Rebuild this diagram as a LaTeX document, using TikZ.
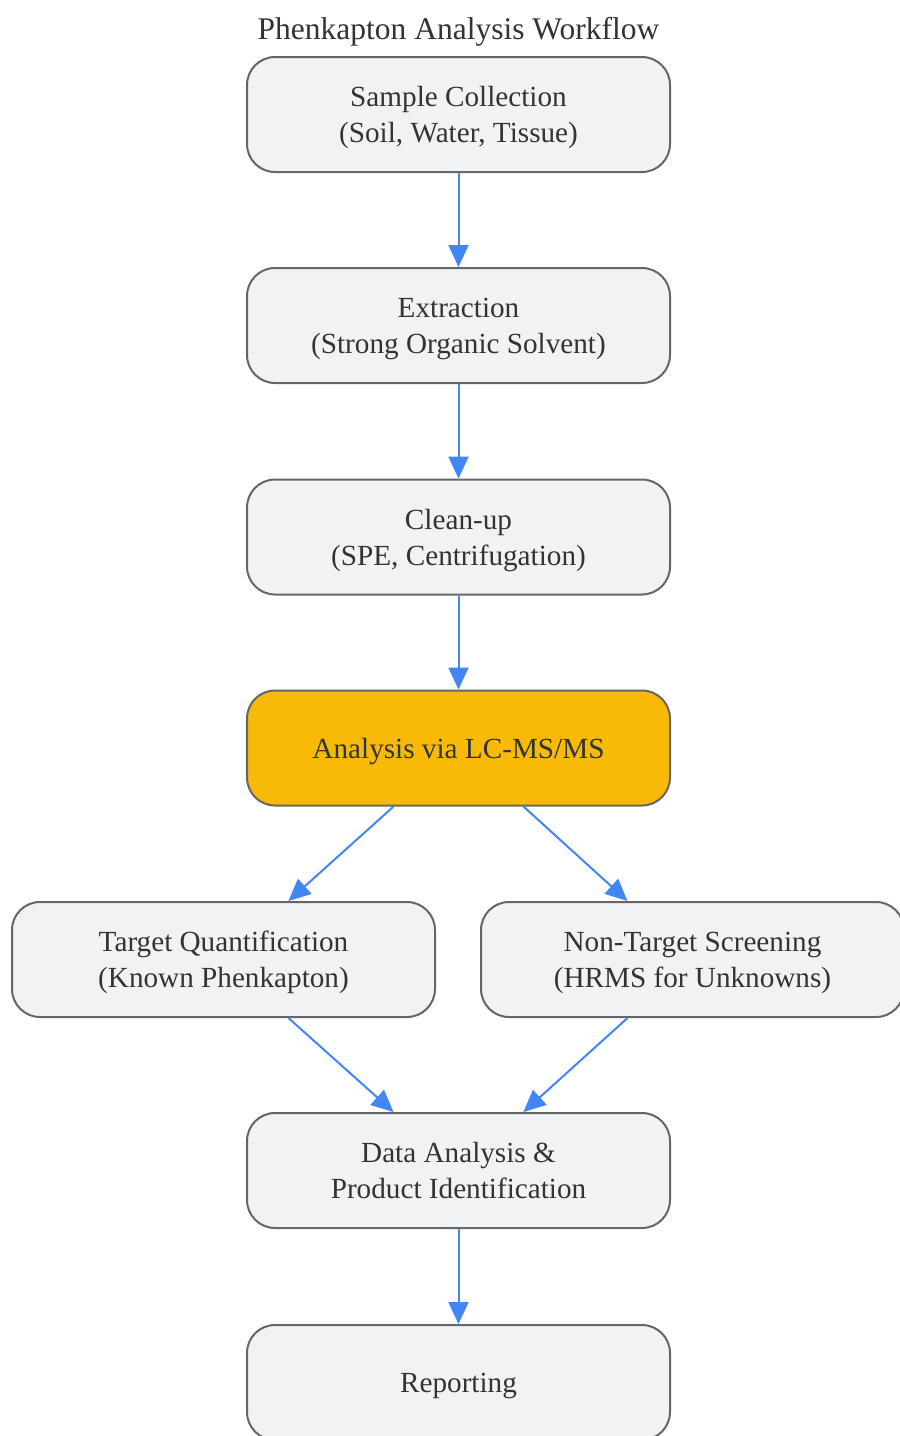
\documentclass[tikz,border=0pt]{standalone}
\usepackage{fontspec}
\setmainfont{Liberation Serif}
\usetikzlibrary{arrows.meta}

\definecolor{boxfill}{HTML}{F1F2F4}
\definecolor{boxline}{HTML}{666666}
\definecolor{hotfill}{HTML}{F9BA07}
\definecolor{flowblue}{HTML}{4285F4}
\definecolor{txt}{HTML}{333333}

\tikzset{stage/.style = {shape=rectangle, rounded corners=28pt, draw=boxline, line width=2pt,
		fill=boxfill, text=txt, align=center, minimum width=423pt, minimum height=115pt,
		inner sep=0pt, text depth=-3pt, font=\fontsize{29.2}{36}\selectfont}}
\tikzset{hot/.style = {stage, fill=hotfill}}
\tikzset{flow/.style = {draw=flowblue, line width=2pt, -{Triangle[length=22pt,width=20pt]}}}

\begin{document}
\begin{tikzpicture}[x=1pt, y=-1pt]
		\useasboundingbox (0,0) rectangle (900,1436);
		% Title
		\node[text=txt, font=\fontsize{31.5}{36}\selectfont] (title) at (458.5, 32) {Phenkapton Analysis Workflow};
		% Nodes
		\node[stage] (collect) at (458.5, 114.5) {Sample Collection\\(Soil, Water, Tissue)};
		\node[stage] (extract) at (458.5, 325.5) {Extraction\\(Strong Organic Solvent)};
		\node[stage] (cleanup) at (458.5, 537.0) {Clean-up\\(SPE, Centrifugation)};
		\node[hot]   (lcms)    at (458.5, 748.0) {Analysis via LC-MS/MS};
		\node[stage] (target)  at (223.5, 959.5) {Target Quantification\\(Known Phenkapton)};
		\node[stage] (screen)  at (692.5, 959.5) {Non-Target Screening\\(HRMS for Unknowns)};
		\node[stage] (data)    at (458.5, 1170.5) {Data Analysis \&\\Product Identification};
		\node[stage] (report)  at (458.5, 1382.5) {Reporting};
		% Arrows
		\foreach \from/\to in {collect/extract, extract/cleanup, cleanup/lcms, data/report}
			\draw [flow] (\from) -- (\to);
		\foreach \from/\to in {lcms.222/target.42, lcms.318/screen.138, target.318/data.138, screen.222/data.42}
			\draw [flow] (\from) -- (\to);
\end{tikzpicture}
\end{document}
